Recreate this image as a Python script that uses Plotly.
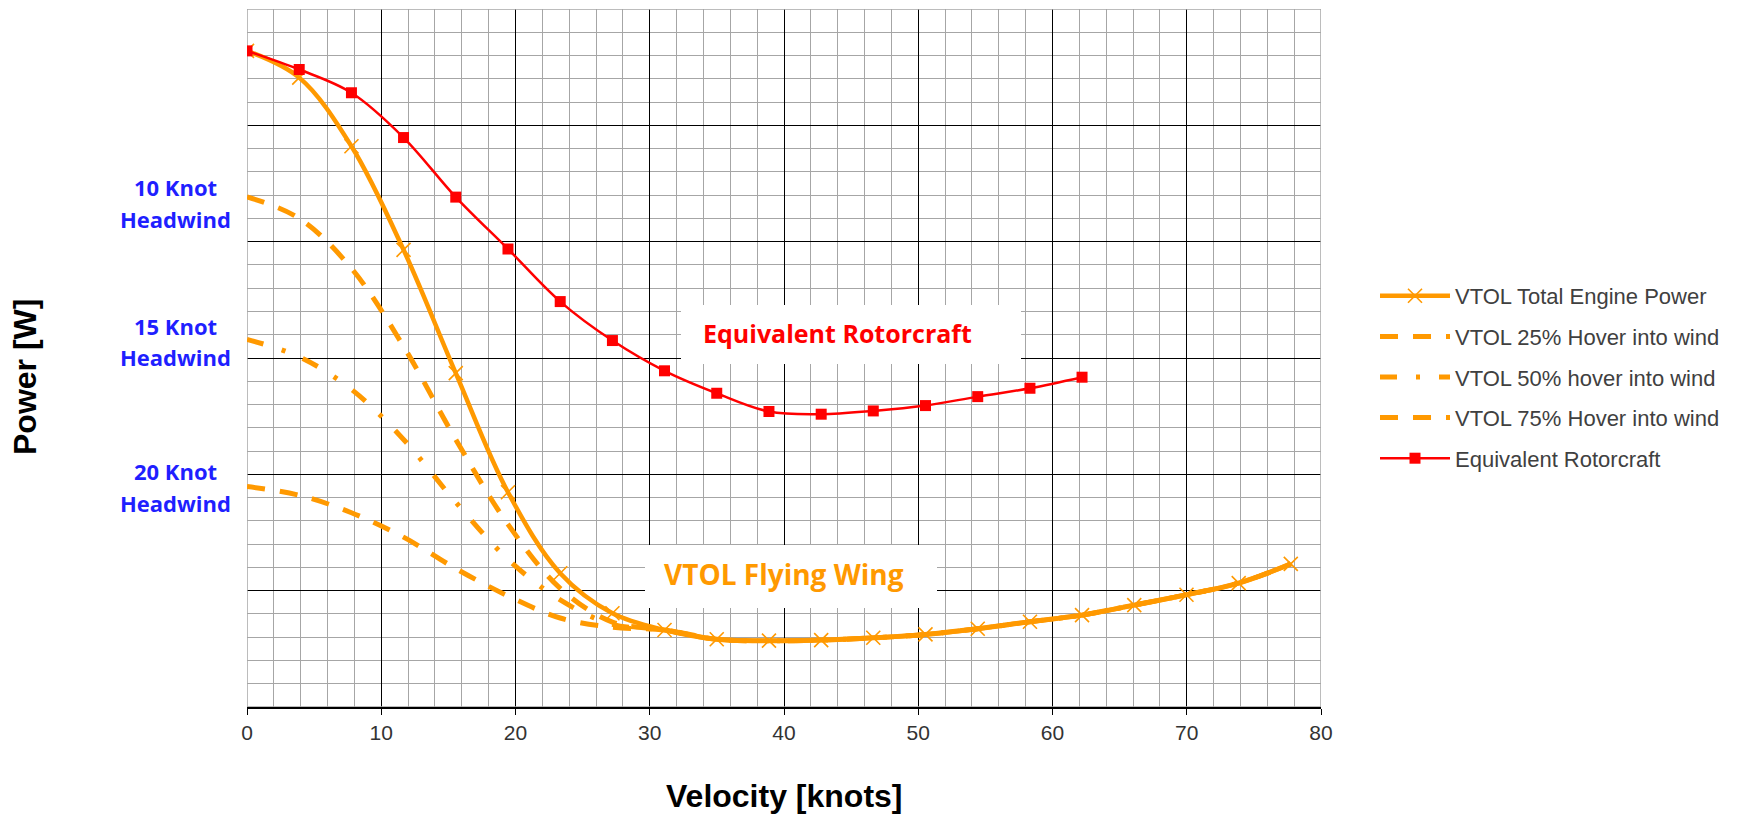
import plotly.graph_objects as go

# ---------------- data ----------------
velocity_knots = [0.0, 3.89, 7.78, 11.66, 15.55, 19.44, 23.33, 27.22, 31.10, 34.99, 38.88,
                  42.77, 46.65, 50.54, 54.43, 58.32, 62.20, 66.09, 69.98, 73.87, 77.75]

vtol_total_power = [564, 541, 482, 393, 287, 184.6, 115, 80.6, 66.2, 58.2, 57.0,
                    57.5, 59.5, 62.4, 67.3, 73.3, 79.0, 87.6, 96.5, 106.5, 123.0]

vtol_25pct_hover = [438.5, 420, 377, 310, 230, 157, 102, 73, 66.2, 58.2, 57.0,
                    57.5, 59.5, 62.4, 67.3, 73.3, 79.0, 87.6, 96.5, 106.5, 123.0]

vtol_50pct_hover = [316, 301, 273, 230, 176, 127, 92, 71, 66.2, 58.2, 57.0,
                    57.5, 59.5, 62.4, 67.3, 73.3, 79.0, 87.6, 96.5, 106.5, 123.0]

vtol_75pct_hover = [189.5, 182, 167, 146, 119, 95.5, 76.5, 68.5, 66.2, 58.2, 57.0,
                    57.5, 59.5, 62.4, 67.3, 73.3, 79.0, 87.6, 96.5, 106.5, 123.0]

rotorcraft_velocity = [0.0, 3.89, 7.78, 11.66, 15.55, 19.44, 23.33, 27.22, 31.10, 34.99,
                       38.88, 42.77, 46.65, 50.54, 54.43, 58.32, 62.20]
rotorcraft_power = [564, 548, 528, 489.5, 438.3, 393.7, 348.5, 315, 289, 269.7,
                    254, 251.7, 254.5, 259.1, 266.8, 274, 283.5]

series_names = ["VTOL Total Engine Power", "VTOL 25% Hover into wind",
                "VTOL 50% hover into wind", "VTOL 75% Hover into wind",
                "Equivalent Rotorcraft"]

x_tick_values = [0, 10, 20, 30, 40, 50, 60, 70, 80]
x_tick_labels = ["0", "10", "20", "30", "40", "50", "60", "70", "80"]

headwind_labels = [("10 Knot", "Headwind"), ("15 Knot", "Headwind"), ("20 Knot", "Headwind")]

# ---------------- styling ----------------
ORANGE = "#FF9900"
RED = "#FF0000"
BLUE = "#1F1FFF"
MINOR = "#A6A6A6"

fig = go.Figure()

fig.add_trace(go.Scatter(
    x=velocity_knots, y=vtol_total_power, name=series_names[0],
    mode="lines+markers", legendgroup="g0",
    line=dict(color=ORANGE, width=4.5, shape="spline"),
    marker=dict(symbol="x-thin", size=14, color=ORANGE, line=dict(color=ORANGE, width=1.6)),
))
fig.add_trace(go.Scatter(
    x=velocity_knots, y=vtol_25pct_hover, name=series_names[1],
    mode="lines", legendgroup="g1",
    line=dict(color=ORANGE, width=5, dash="18px,15px", shape="spline"),
))
fig.add_trace(go.Scatter(
    x=velocity_knots, y=vtol_50pct_hover, name=series_names[2],
    mode="lines", legendgroup="g2",
    line=dict(color=ORANGE, width=5, dash="17px,19px,4px,19px", shape="spline"),
))
fig.add_trace(go.Scatter(
    x=velocity_knots, y=vtol_75pct_hover, name=series_names[3],
    mode="lines", legendgroup="g3",
    line=dict(color=ORANGE, width=5, dash="18px,15px", shape="spline"),
))
fig.add_trace(go.Scatter(
    x=rotorcraft_velocity, y=rotorcraft_power, name=series_names[4],
    mode="lines+markers", legendgroup="g4",
    line=dict(color=RED, width=2.5, shape="spline"),
    marker=dict(symbol="square", size=11, color=RED),
))

W, H = 1740, 815
# plot area in window pixels
L, R, T, B = 247, 1321, 9, 707
X_MAX, Y_MAX = 80, 600


def px_x(px):
    return (px - L) / (R - L)


def px_y(py):
    return (B - py) / (B - T)


def dx(px):
    return px_x(px) * X_MAX


def dy(py):
    return px_y(py) * Y_MAX


shapes = [
    # white label boxes (between gridlines and traces)
    dict(type="rect", xref="x", yref="y", layer="between",
         x0=dx(681), x1=dx(1021), y0=dy(364), y1=dy(305),
         fillcolor="white", line=dict(width=0)),
    dict(type="rect", xref="x", yref="y", layer="between",
         x0=dx(645), x1=dx(937), y0=dy(608), y1=dy(545),
         fillcolor="white", line=dict(width=0)),
    # gray plot border
    dict(type="rect", xref="x", yref="y", layer="between",
         x0=0, x1=X_MAX, y0=0, y1=Y_MAX, fillcolor="rgba(0,0,0,0)",
         line=dict(color=MINOR, width=1.5)),
]


def ann(text, px, py, font, angle=0):
    return dict(text=text, xref="paper", yref="paper", x=px_x(px), y=px_y(py),
                xanchor="center", yanchor="middle", showarrow=False,
                textangle=angle, font=font)


annotations = [
    ann("<b>Equivalent Rotorcraft</b>", 837, 333,
        dict(family="Open Sans", size=25, color=RED)),
    ann("<b>VTOL Flying Wing</b>", 784, 574,
        dict(family="Open Sans", size=28, color=ORANGE)),
    ann("<b>Power [W]</b>", 25, 377,
        dict(family="Liberation Sans", size=32, color="black"), angle=-90),
    ann("<b>Velocity [knots]</b>", 784, 796,
        dict(family="Liberation Sans", size=32, color="black")),
]
label_rows = [(186.5, 218.5), (325.5, 357.5), (471, 503)]
for (l1, l2), (y1, y2) in zip(headwind_labels, label_rows):
    for txt, yy in ((l1, y1), (l2, y2)):
        annotations.append(ann(f"<b>{txt}</b>", 175, yy,
                               dict(family="Open Sans", size=22, color=BLUE)))

fig.update_layout(
    width=W, height=H,
    margin=dict(l=L, r=W - R, t=T, b=H - B, pad=0),
    paper_bgcolor="white", plot_bgcolor="white",
    showlegend=True,
    legend=dict(x=px_x(1375), y=px_y(275), xanchor="left", yanchor="top",
                font=dict(family="Liberation Sans", size=22, color="#404040"),
                itemwidth=70, tracegroupgap=9, bgcolor="rgba(0,0,0,0)"),
    shapes=shapes, annotations=annotations,
)

fig.update_xaxes(
    range=[0, X_MAX], tickmode="array", tickvals=x_tick_values, ticktext=x_tick_labels,
    showgrid=True, gridcolor="black", gridwidth=1.2,
    minor=dict(dtick=2, tick0=0, showgrid=True, gridcolor=MINOR, gridwidth=1.4, ticks=""),
    ticks="outside", ticklen=6, tickwidth=1.3, tickcolor="black",
    showline=True, linecolor="black", linewidth=1.6, zeroline=False,
    tickfont=dict(family="Liberation Sans", size=21, color="#333333"),
    fixedrange=True,
)
fig.update_yaxes(
    range=[0, Y_MAX], dtick=100, tick0=0, showticklabels=False,
    showgrid=True, gridcolor="black", gridwidth=1.2,
    minor=dict(dtick=20, tick0=0, showgrid=True, gridcolor=MINOR, gridwidth=1.4, ticks=""),
    ticks="", showline=False, zeroline=False, fixedrange=True,
)

# remove the default 8px page margin so the figure fills the 1740x815 window exactly
fig.write_html("out.html", config={"displayModeBar": False},
               post_script="document.body.style.margin='0px';")
